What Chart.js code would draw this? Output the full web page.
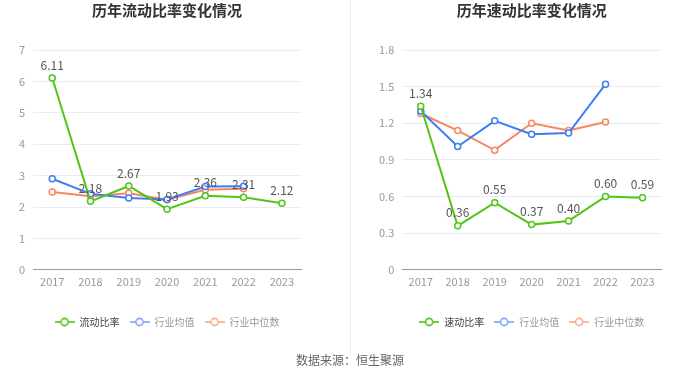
<!DOCTYPE html>
<html><head><meta charset="utf-8">
<script src="https://cdn.jsdelivr.net/npm/chart.js@4"></script>
<style>
html,body{margin:0;padding:0;background:#fff;width:700px;height:377px;overflow:hidden;font-family:"Noto Sans CJK SC","Noto Sans",sans-serif;}
.box{position:absolute;top:0;width:350px;height:345px;}
#divider{position:absolute;left:350px;top:0;width:1px;height:356px;background:#eeeeee;}
#src{position:absolute;left:0;width:700px;top:351px;text-align:center;font-size:12px;color:#666;}
</style></head>
<body>
<div class="box" style="left:0"><canvas id="c1" width="350" height="345"></canvas></div>
<div class="box" style="left:350px"><canvas id="c2" width="350" height="345"></canvas></div>
<div id="divider"></div>
<div id="src">数据来源：恒生聚源</div>
<script>
const years = ['2017','2018','2019','2020','2021','2022','2023'];
const currentRatio = [6.11, 2.18, 2.67, 1.93, 2.36, 2.31, 2.12];
const currentIndAvg = [2.90, 2.42, 2.29, 2.24, 2.65, 2.66, null];
const currentIndMed = [2.48, 2.34, 2.44, 2.23, 2.55, 2.58, null];
const quickRatio = [1.34, 0.36, 0.55, 0.37, 0.40, 0.60, 0.59];
const quickIndAvg = [1.30, 1.01, 1.22, 1.11, 1.12, 1.52, null];
const quickIndMed = [1.28, 1.14, 0.98, 1.20, 1.14, 1.21, null];

const GREEN = '#52c41a', BLUE = '#3d7ef2', ORANGE = '#f7875f';
const LEG_BLUE = '#7fa6f5', LEG_ORANGE = '#f9ab8f';
const FONT = '"Noto Sans CJK SC","Noto Sans",sans-serif';

function marker(color){
  const c = document.createElement('canvas');
  c.width = 20; c.height = 10;
  const x = c.getContext('2d');
  x.strokeStyle = color; x.lineWidth = 1.6;
  x.beginPath(); x.moveTo(0,5); x.lineTo(20,5); x.stroke();
  x.beginPath(); x.arc(10,5,3.6,0,Math.PI*2); x.fillStyle='#fff'; x.fill(); x.stroke();
  return c;
}

const labelPlugin = {
  id:'vlabels',
  afterDatasetsDraw(chart){
    const ctx = chart.ctx;
    const meta = chart.getDatasetMeta(0);
    const data = chart.data.datasets[0].data;
    ctx.save();
    ctx.font = '12px ' + FONT;
    ctx.fillStyle = '#555';
    ctx.textAlign = 'center';
    ctx.textBaseline = 'middle';
    meta.data.forEach((p,i)=>{
      if (data[i]==null) return;
      ctx.fillText(data[i].toFixed(2), p.x, p.y - 13);
    });
    ctx.restore();
  }
};

function makeChart(id, title, names, series, ymax, step, padL, padR){
  const colors = [GREEN, BLUE, ORANGE];
  const legColors = [GREEN, LEG_BLUE, LEG_ORANGE];
  const textColors = ['#444', '#999', '#999'];
  new Chart(document.getElementById(id), {
    type:'line',
    data:{
      labels: years,
      datasets: series.map((d,i)=>({
        label: names[i],
        data: d,
        borderColor: colors[i],
        backgroundColor: '#fff',
        pointBackgroundColor: '#fff',
        pointBorderColor: colors[i],
        pointBorderWidth: 1.5,
        pointRadius: 3,
        borderWidth: 2,
        tension: 0,
        spanGaps: false
      }))
    },
    options:{
      responsive:false,
      animation:false,
      devicePixelRatio:1,
      layout:{padding:{left:padL, right:padR, top:0, bottom:8}},
      scales:{
        x:{
          offset:true,
          grid:{display:false, drawTicks:false},
          border:{display:true, color:'#9a9a9a'},
          ticks:{color:'#999', font:{size:11, family:FONT}, padding:5},
          afterFit(s){ s.height += 14; }
        },
        y:{
          min:0, max:ymax,
          grid:{color:'#e8edf5', drawTicks:false},
          border:{display:false},
          ticks:{stepSize:step, color:'#999', font:{size:11, family:FONT}, padding:8,
            callback:(v)=> step<1 ? (v===0?'0':v.toFixed(1)) : v}
        }
      },
      plugins:{
        title:{display:true, text:title, fullSize:false, color:'#333',
          font:{size:15, weight:'bold', family:FONT}, padding:{top:1, bottom:31}},
        legend:{
          position:'bottom', fullSize:false,
          labels:{
            usePointStyle:true, pointStyleWidth:20, boxHeight:10,
            font:{size:10, family:FONT}, padding:10,
            generateLabels(chart){
              return chart.data.datasets.map((ds,i)=>({
                text: ds.label,
                pointStyle: marker(legColors[i]),
                fontColor: textColors[i],
                strokeStyle: legColors[i],
                fillStyle:'#fff',
                lineWidth:0,
                hidden:false,
                datasetIndex:i
              }));
            }
          }
        },
        tooltip:{enabled:false}
      }
    },
    plugins:[labelPlugin]
  });
}

makeChart('c1','历年流动比率变化情况',['流动比率','行业均值','行业中位数'],
  [currentRatio, currentIndAvg, currentIndMed], 7, 1, 11, 49);
makeChart('c2','历年速动比率变化情况',['速动比率','行业均值','行业中位数'],
  [quickRatio, quickIndAvg, quickIndMed], 1.8, 0.3, 21, 39);
</script>
</body></html>
